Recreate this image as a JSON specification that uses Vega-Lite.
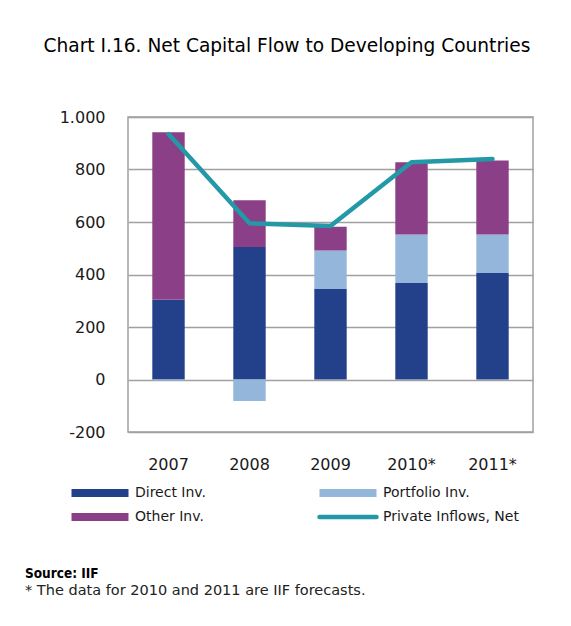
{
  "$schema": "https://vega.github.io/schema/vega-lite/v6.json",
  "width": 405,
  "height": 315,
  "autosize": {"type": "none"},
  "padding": {"left": 128, "top": 117, "right": 38, "bottom": 194},
  "background": "white",
  "title": {
    "text": "Source: IIF",
    "subtitle": "* The data for 2010 and 2011 are IIF forecasts.",
    "orient": "bottom",
    "anchor": "start",
    "frame": "bounds",
    "font": "DejaVu Sans Condensed",
    "fontSize": 13.5,
    "fontWeight": "bold",
    "color": "#000000",
    "subtitleFont": "DejaVu Sans",
    "subtitleFontSize": 14.5,
    "subtitleColor": "#222222",
    "subtitlePadding": 3,
    "offset": 41,
    "dx": -18
  },
  "datasets": {
    "bars": [
      {"year": "2007", "series": "Direct Inv.", "value": 305},
      {"year": "2007", "series": "Portfolio Inv.", "value": -4},
      {"year": "2007", "series": "Other Inv.", "value": 637},
      {"year": "2008", "series": "Direct Inv.", "value": 505},
      {"year": "2008", "series": "Portfolio Inv.", "value": -82},
      {"year": "2008", "series": "Other Inv.", "value": 178},
      {"year": "2009", "series": "Direct Inv.", "value": 345},
      {"year": "2009", "series": "Portfolio Inv.", "value": 146},
      {"year": "2009", "series": "Other Inv.", "value": 91},
      {"year": "2010*", "series": "Direct Inv.", "value": 368},
      {"year": "2010*", "series": "Portfolio Inv.", "value": 184},
      {"year": "2010*", "series": "Other Inv.", "value": 276},
      {"year": "2011*", "series": "Direct Inv.", "value": 406},
      {"year": "2011*", "series": "Portfolio Inv.", "value": 146},
      {"year": "2011*", "series": "Other Inv.", "value": 282}
    ],
    "net": [
      {"year": "2007", "net": 935},
      {"year": "2008", "net": 595},
      {"year": "2009", "net": 585},
      {"year": "2010*", "net": 828},
      {"year": "2011*", "net": 840}
    ]
  },
  "config": {
    "view": {"stroke": "#a0a0a0", "strokeWidth": 1.5},
    "font": "DejaVu Sans",
    "axis": {"labelFont": "DejaVu Sans", "labelColor": "#1a1a1a"}
  },
  "encoding": {
    "x": {
      "field": "year",
      "type": "nominal",
      "sort": null,
      "scale": {"paddingInner": 0.6, "paddingOuter": 0.3},
      "axis": {
        "title": null,
        "labelAngle": 0,
        "labelFontSize": 16,
        "labelPadding": 24,
        "ticks": false,
        "domain": false,
        "grid": false
      }
    }
  },
  "layer": [
    {
      "data": {"name": "bars"},
      "transform": [
        {"calculate": "indexof(['Direct Inv.', 'Portfolio Inv.', 'Other Inv.'], datum.series)", "as": "stackOrder"}
      ],
      "mark": {"type": "bar"},
      "encoding": {
        "y": {
          "field": "value",
          "type": "quantitative",
          "stack": "zero",
          "scale": {"domain": [-200, 1000], "nice": false, "zero": false},
          "axis": {
            "values": [-200, 0, 200, 400, 600, 800, 1000],
            "labelExpr": "replace(replace(format(datum.value, ','), ',', '.'), '\u2212', '-')",
            "labelFontSize": 16,
            "labelPadding": 23,
            "ticks": false,
            "domain": false,
            "grid": true,
            "gridColor": "#a0a0a0",
            "gridWidth": 1.5,
            "title": "Chart I.16. Net Capital Flow to Developing Countries",
            "titleAngle": 0,
            "titleAlign": "left",
            "titleBaseline": "middle",
            "titleX": -85,
            "titleY": -72,
            "titleFont": "DejaVu Sans",
            "titleFontSize": 18.6,
            "titleFontWeight": "normal",
            "titleColor": "#000000"
          }
        },
        "order": {"field": "stackOrder", "type": "quantitative", "sort": "ascending"},
        "color": {
          "field": "series",
          "type": "nominal",
          "scale": {
            "domain": ["Direct Inv.", "Portfolio Inv.", "Other Inv.", "Private Inflows, Net"],
            "range": ["#23408a", "#94b6da", "#8a3f87", "#2399a8"]
          },
          "legend": {
            "title": null,
            "orient": "none",
            "direction": "horizontal",
            "values": ["Direct Inv.", "Portfolio Inv.", "Other Inv.", "Private Inflows, Net"],
            "legendX": -35,
            "legendY": 369,
            "columns": 2,
            "columnPadding": 103,
            "rowPadding": 8,
            "symbolSize": 3249,
            "symbolStrokeWidth": 0,
            "labelFont": "DejaVu Sans",
            "labelFontSize": 14,
            "labelColor": "#1a1a1a",
            "labelOffset": 28,
            "labelLimit": 300,
            "encode": {
              "symbols": {
                "update": {
                  "shape": {"signal": "datum.value === 'Private Inflows, Net' ? 'stroke' : 'M-1,-0.14H1V0.14H-1Z'"},
                  "fill": {"signal": "datum.value === 'Private Inflows, Net' ? 'transparent' : scale('color', datum.value)"},
                  "stroke": {"signal": "scale('color', datum.value)"},
                  "strokeWidth": {"signal": "datum.value === 'Private Inflows, Net' ? 4.5 : 0"},
                  "strokeCap": {"value": "round"},
                  "opacity": {"value": 1}
                }
              }
            }
          }
        }
      }
    },
    {
      "data": {"name": "net"},
      "mark": {"type": "line", "strokeWidth": 4.5, "strokeCap": "round", "strokeJoin": "round"},
      "encoding": {
        "y": {"field": "net", "type": "quantitative"},
        "color": {"datum": "Private Inflows, Net"}
      }
    }
  ]
}
